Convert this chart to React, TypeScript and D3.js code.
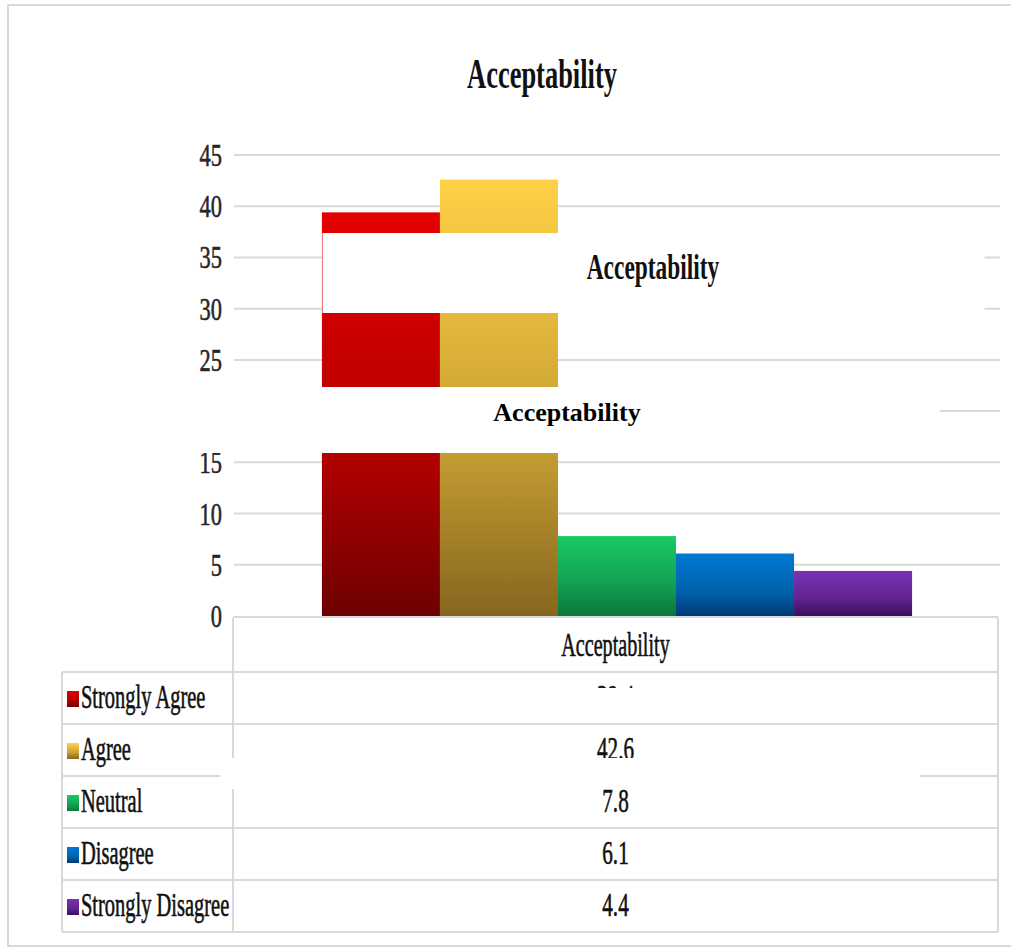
import React from "react";
import * as d3 from "d3";

// Survey responses for the "Acceptability" item (percent)
const categories = ["Acceptability"];
const seriesNames = ["Strongly Agree", "Agree", "Neutral", "Disagree", "Strongly Disagree"];
const seriesValues = [39.4, 42.6, 7.8, 6.1, 4.4];
const valueLabels = ["39.4", "42.6", "7.8", "6.1", "4.4"];
const yTicks = [0, 5, 10, 15, 20, 25, 30, 35, 40, 45];
const gradientTop = ["#e40000", "#ffd147", "#19ca66", "#0079d3", "#7b31b2"];
const gradientMid = ["#b30000", "#c8a032", "#12a052", "#0062ad", "#612492"];
const gradientBottom = ["#6e0000", "#86661f", "#0c763a", "#003b74", "#3b0e5e"];

const W = 1011;
const H = 950;
const SERIF = "'Liberation Serif', 'Times New Roman', serif";
const GRID = "#d9d9d9";

type TProps = {
  x: number;
  y: number;
  sx?: number;
  size: number;
  bold?: boolean;
  anchor?: "start" | "middle" | "end";
  fill?: string;
  heavy?: boolean;
  children: React.ReactNode;
};

// Horizontally condensed serif text
function CText({ x, y, sx = 1, size, bold, anchor = "start", fill = "#111", heavy, children }: TProps) {
  return (
    <text
      transform={`translate(${x},${y}) scale(${sx},1)`}
      fontFamily={SERIF}
      fontSize={size}
      fontWeight={bold ? 700 : 400}
      textAnchor={anchor}
      fill={fill}
      stroke={heavy ? fill : "none"}
      strokeWidth={heavy ? 0.6 : 0}
    >
      {children}
    </text>
  );
}

export default function App() {
  const plotLeft = 234;
  const plotRight = 1000;
  const y = d3.scaleLinear().domain([0, 45]).range([616, 155]);
  const xCat = d3
    .scaleBand<string>()
    .domain(categories)
    .range([plotLeft, plotRight])
    .paddingInner(0)
    .paddingOuter(0.149);
  const groupX = xCat(categories[0]) as number;
  const xSer = d3
    .scaleBand<string>()
    .domain(seriesNames)
    .range([groupX, groupX + xCat.bandwidth()]);

  // data table below the plot
  const tableLeft = 62;
  const colSplit = 233;
  const tableRight = 998;
  const headerTop = 618;
  const rowScale = d3.scaleBand<string>().domain(seriesNames).range([672, 932]);
  const colMid = (colSplit + tableRight) / 2;

  return (
    <svg
      width={W}
      height={H}
      viewBox={`0 0 ${W} ${H}`}
      style={{ position: "absolute", left: 0, top: 0, background: "#fff" }}
    >
      <defs>
        {seriesNames.map((s, i) => (
          <linearGradient key={s} id={`grad${i}`} x1="0" y1="0" x2="0" y2="1">
            <stop offset="0%" stopColor={gradientTop[i]} />
            <stop offset="60%" stopColor={gradientMid[i]} />
            <stop offset="100%" stopColor={gradientBottom[i]} />
          </linearGradient>
        ))}
      </defs>

      {/* chart frame */}
      <rect x={8} y={5} width={W + 10} height={941} fill="#fff" stroke={GRID} strokeWidth={2} />

      {/* title */}
      <CText x={542} y={88} sx={0.63} size={42} bold anchor="middle">
        Acceptability
      </CText>

      {/* gridlines and y tick labels */}
      {yTicks.map((t) => (
        <g key={t}>
          {t > 0 && (
            <line x1={plotLeft} x2={plotRight} y1={y(t)} y2={y(t)} stroke={GRID} strokeWidth={2} />
          )}
          <CText x={222} y={y(t) + 11} sx={0.7} size={32} anchor="end" fill="#262626" heavy>
            {t}
          </CText>
        </g>
      ))}

      {/* bars */}
      {seriesNames.map((s, i) => (
        <rect
          key={s}
          x={xSer(s)}
          y={y(seriesValues[i])}
          width={xSer.bandwidth()}
          height={y(0) - y(seriesValues[i])}
          fill={`url(#grad${i})`}
        />
      ))}

      {/* data table */}
      <g stroke={GRID} strokeWidth={2} fill="none">
        <line x1={colSplit} x2={tableRight} y1={y(0) + 1} y2={y(0) + 1} />
        <line x1={colSplit} x2={colSplit} y1={headerTop} y2={932} />
        <line x1={tableRight} x2={tableRight} y1={headerTop} y2={932} />
        <line x1={tableLeft} x2={tableLeft} y1={672} y2={932} />
        {seriesNames.map((s) => (
          <line
            key={s}
            x1={tableLeft}
            x2={tableRight}
            y1={rowScale(s)}
            y2={rowScale(s)}
          />
        ))}
        <line x1={tableLeft} x2={tableRight} y1={932} y2={932} />
      </g>
      <CText x={colMid} y={656} sx={0.61} size={33} anchor="middle" heavy>
        {categories[0]}
      </CText>
      {seriesNames.map((s, i) => {
        const top = rowScale(s) as number;
        return (
          <g key={s}>
            <rect x={67} y={top + 19} width={12} height={16} fill={`url(#grad${i})`} />
            <CText x={81} y={top + 36} sx={0.62} size={33} heavy>
              {s}
            </CText>
            <CText x={colMid} y={top + 36} sx={0.64} size={33} anchor="middle" heavy>
              {valueLabels[i]}
            </CText>
          </g>
        );
      })}

      {/* white label patches laid over the plot and table */}
      <rect x={322.5} y={233} width={662} height={80} fill="#fff" />
      <CText x={653} y={279} sx={0.65} size={36} bold anchor="middle">
        Acceptability
      </CText>

      <rect x={150} y={387} width={790} height={66} fill="#fff" />
      <CText x={567} y={421} size={26} bold anchor="middle" fill="#000">
        Acceptability
      </CText>

      <rect x={240} y={688} width={725} height={34} fill="#fff" />
      <rect x={220} y={758} width={700} height={31} fill="#fff" />
    </svg>
  );
}
